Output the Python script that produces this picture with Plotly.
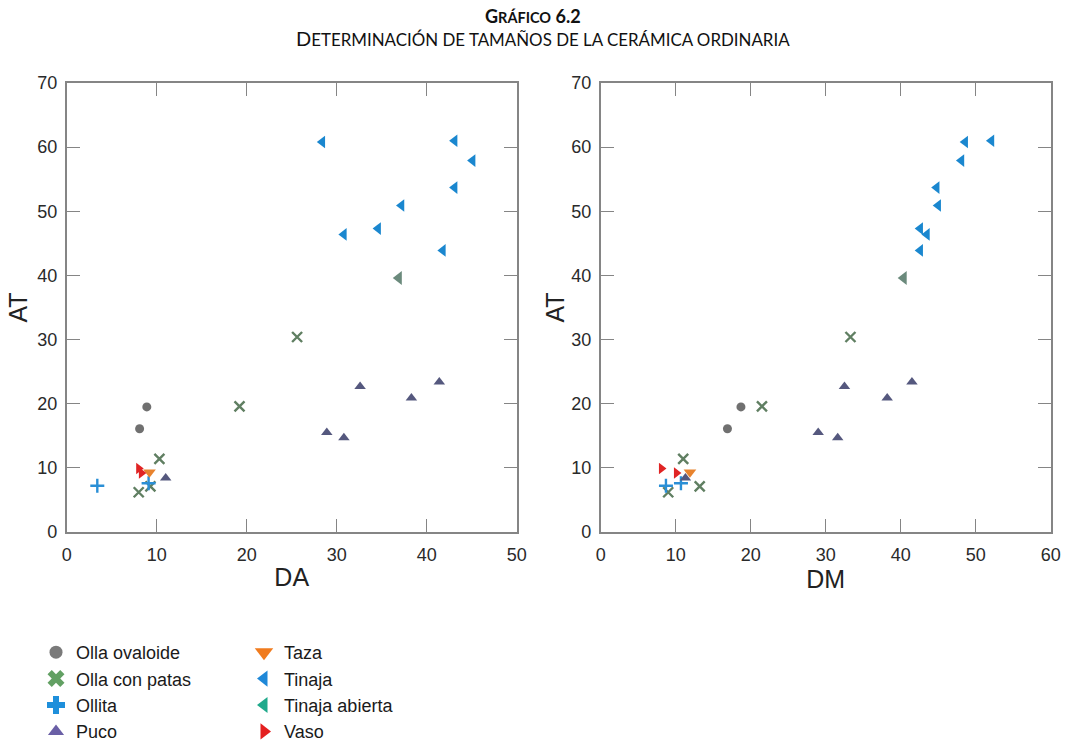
import plotly.graph_objects as go

# ---------------- data ----------------
categories = ["Olla ovaloide", "Olla con patas", "Ollita", "Puco",
              "Taza", "Tinaja", "Tinaja abierta", "Vaso"]

# AT (height) per vessel, with its DA and DM measurements
at_vals = [
    [19.5, 16.1],
    [30.4, 19.6, 11.4, 7.1, 6.2],
    [7.2, 7.6],
    [22.7, 20.9, 23.4, 15.5, 14.7, 8.4],
    [9.3],
    [60.8, 61.0, 57.9, 53.7, 50.9, 47.3, 46.4, 43.9],
    [39.6],
    [9.9, 9.2],
]
da_vals = [
    [8.9, 8.1],
    [25.6, 19.2, 10.3, 9.3, 8.0],
    [3.4, 9.1],
    [32.6, 38.3, 41.4, 28.9, 30.8, 11.0],
    [9.2],
    [28.4, 43.1, 45.1, 43.1, 37.2, 34.6, 30.8, 41.8],
    [36.9],
    [8.0, 8.3],
]
dm_vals = [
    [18.7, 16.9],
    [33.3, 21.5, 11.0, 13.2, 9.0],
    [8.7, 10.7],
    [32.5, 38.2, 41.5, 29.0, 31.6, 11.3],
    [11.9],
    [48.6, 52.1, 48.1, 44.8, 45.0, 42.6, 43.5, 42.6],
    [40.4],
    [8.1, 10.1],
]

x_ticks_left = [0, 10, 20, 30, 40, 50]
x_ticks_right = [0, 10, 20, 30, 40, 50, 60]
y_ticks = [0, 10, 20, 30, 40, 50, 60, 70]

# ---------------- styles ----------------
symbols = ["circle", "x-thin", "cross-thin", "triangle-up",
           "triangle-down", "triangle-left", "triangle-left", "triangle-right"]
legend_symbols = ["circle", "x", "cross", "triangle-up",
                  "triangle-down", "triangle-left", "triangle-left", "triangle-right"]
plot_colors = ["#707070", "#607f62", "#2a8fd6", "#55587e",
               "#e8832e", "#1a87cf", "#6b8a7c", "#e02424"]
legend_colors = ["#7a7a7a", "#62a063", "#1e8fdb", "#6a5fa6",
                 "#f07b1e", "#1f88d8", "#1fa98b", "#e41f1f"]
plot_sizes = [9, 10, 10, 10, 11, 11, 12, 10]
legend_sizes = [13, 15, 15, 14, 16, 14, 14, 14]

FW, FH = 1066, 752
FONT = "Liberation Sans, Arial, sans-serif"
AXC = "#858585"


def px(x):
    return x / FW


def py(y):
    return 1 - y / FH


fig = go.Figure()

for i, cat in enumerate(categories):
    thin = symbols[i].endswith("-thin")
    mk = dict(symbol=symbols[i], size=plot_sizes[i], color=plot_colors[i],
              line=dict(width=2.4 if thin else 0, color=plot_colors[i]))
    fig.add_trace(go.Scatter(x=da_vals[i], y=at_vals[i], mode="markers",
                             marker=mk, name=cat, showlegend=False,
                             legendgroup=cat, xaxis="x", yaxis="y"))
    fig.add_trace(go.Scatter(x=dm_vals[i], y=at_vals[i], mode="markers",
                             marker=mk, name=cat, showlegend=False,
                             legendgroup=cat, xaxis="x2", yaxis="y2"))
    # legend entry (no data points)
    fig.add_trace(go.Scatter(x=[None], y=[None], mode="markers",
                             marker=dict(symbol=legend_symbols[i], size=legend_sizes[i],
                                         color=legend_colors[i], line=dict(width=0)),
                             name=cat, legendgroup=cat,
                             legend="legend" if i < 4 else "legend2",
                             xaxis="x", yaxis="y"))


def xa(dom, rng, ticks, title, anchor):
    return dict(domain=dom, range=rng, tickvals=ticks, ticks="inside", ticklen=13,
                tickwidth=1.4, tickcolor=AXC, showline=True, linecolor=AXC, linewidth=1.6,
                mirror="ticks", showgrid=False, zeroline=False, anchor=anchor,
                tickfont=dict(family=FONT, size=18, color="#2a2a2a"),
                ticklabelstandoff=6,
                title=dict(text=title, font=dict(family=FONT, size=25, color="#222"),
                           standoff=4))


def ya(dom, anchor, standoff):
    return dict(domain=dom, range=[0, 70], tickvals=y_ticks, ticks="inside", ticklen=13,
                tickwidth=1.4, tickcolor=AXC, showline=True, linecolor=AXC, linewidth=1.6,
                mirror="ticks", showgrid=False, zeroline=False, anchor=anchor,
                tickfont=dict(family=FONT, size=18, color="#2a2a2a"),
                ticklabelstandoff=4,
                title=dict(text="AT", font=dict(family=FONT, size=25, color="#222"),
                           standoff=standoff))


ydom = [py(532), py(83)]
legend_font = dict(family=FONT, size=18, color="#1a1a1a")
fig.update_layout(
    width=FW, height=FH, margin=dict(l=0, r=0, t=0, b=0, autoexpand=False),
    paper_bgcolor="white", plot_bgcolor="white",
    xaxis=xa([px(66.7), px(516.7)], [0, 50], x_ticks_left, "DA", "y"),
    yaxis=ya(ydom, "x", 3),
    xaxis2=xa([px(600.7), px(1050.7)], [0, 60], x_ticks_right, "DM", "y2"),
    yaxis2=ya(ydom, "x2", 0),
    legend=dict(x=px(36), y=py(634), xanchor="left", yanchor="top",
                font=legend_font, bgcolor="rgba(0,0,0,0)", tracegroupgap=0,
                itemclick=False),
    legend2=dict(x=px(244), y=py(634), xanchor="left", yanchor="top",
                 font=legend_font, bgcolor="rgba(0,0,0,0)", tracegroupgap=0,
                 itemclick=False),
    showlegend=True,
)

TF = "Lato, Open Sans, sans-serif"
fig.add_annotation(
    text="<b>G<span style='font-size:14.5px'>RÁFICO</span> 6.2</b>",
    x=px(533), y=py(16), xref="paper", yref="paper", showarrow=False,
    font=dict(family=TF, size=18, color="#111"), xanchor="center", yanchor="middle")
fig.add_annotation(
    text="D<span style='font-size:16.9px'>ETERMINACIÓN DE TAMAÑOS DE LA CERÁMICA ORDINARIA</span>",
    x=px(543), y=py(38), xref="paper", yref="paper", showarrow=False,
    font=dict(family=TF, size=20, color="#111"), xanchor="center", yanchor="middle")

# remove the browser's default 8px page margin so the figure fills the window
fig.write_html("out.html",
               config={"displayModeBar": False},
               post_script="document.body.style.margin='0';"
                           "document.body.style.overflow='hidden';")
